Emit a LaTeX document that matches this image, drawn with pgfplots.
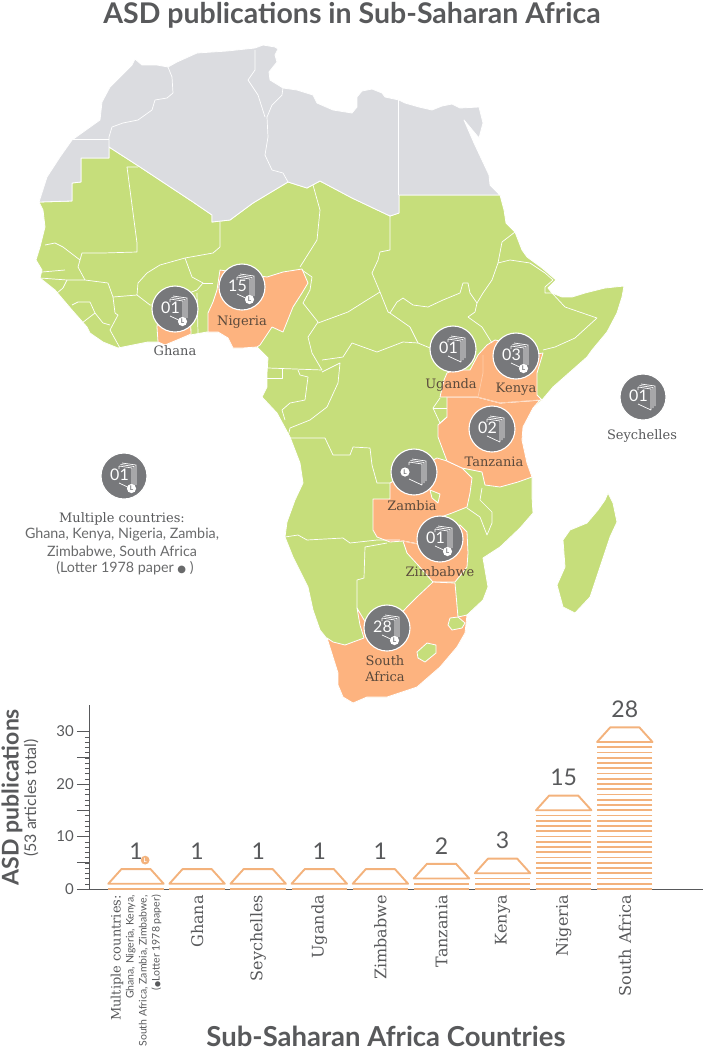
\documentclass[border=0pt]{standalone}
\usepackage{fontspec}
\usepackage{pgfplots}
\pgfplotsset{compat=1.18}
\setmainfont{Lato}
\newfontfamily\slab{DejaVu Serif}
\newfontfamily\symb{DejaVu Sans}
\definecolor{landgreen}{HTML}{C6DE7B}
\definecolor{landgrey}{HTML}{DBDCE0}
\definecolor{landorange}{HTML}{FDB37F}
\definecolor{tokgrey}{HTML}{77787B}
\definecolor{barorange}{HTML}{F3B27C}
\definecolor{inkgrey}{HTML}{58595B}
\definecolor{inkbrown}{HTML}{5B4A3C}
\newcommand{\fs}[1]{\fontsize{#1}{#1}\selectfont}
% token: grey disc with a stack of book pages
\pgfdeclareplotmark{token}{%
  \pgfsetfillcolor{tokgrey}\pgfsetstrokecolor{white}\pgfsetlinewidth{1.1pt}%
  \pgfpathcircle{\pgfpointorigin}{23pt}\pgfusepathqfillstroke
  \pgfsetlinewidth{0.7pt}%
  \pgfpathmoveto{\pgfqpoint{-5pt}{10pt}}\pgfpathlineto{\pgfqpoint{8pt}{8pt}}\pgfpathlineto{\pgfqpoint{8pt}{-13pt}}%
  \pgfpathmoveto{\pgfqpoint{-3.5pt}{11.5pt}}\pgfpathlineto{\pgfqpoint{10pt}{9.5pt}}\pgfpathlineto{\pgfqpoint{10pt}{-11pt}}%
  \pgfpathmoveto{\pgfqpoint{-2pt}{13pt}}\pgfpathlineto{\pgfqpoint{12pt}{11pt}}\pgfpathlineto{\pgfqpoint{12pt}{-9pt}}%
  \pgfpathmoveto{\pgfqpoint{-5pt}{10pt}}\pgfpathlineto{\pgfqpoint{-5pt}{7pt}}%
  \pgfpathmoveto{\pgfqpoint{-5pt}{-7pt}}\pgfpathlineto{\pgfqpoint{8pt}{-13pt}}%
  \pgfusepathqstroke}
\pgfdeclareplotmark{badge}{%
  \pgfsetfillcolor{white}\pgfpathcircle{\pgfpointorigin}{4.6pt}\pgfusepathqfill
  \pgftext{\textcolor{tokgrey}{\fs{6.5}\bfseries L}}}
\pgfdeclareplotmark{obadge}{%
  \pgfsetfillcolor{barorange}\pgfpathcircle{\pgfpointorigin}{4.4pt}\pgfusepathqfill
  \pgftext{\textcolor{white}{\fs{6}\bfseries L}}}
\pgfdeclareplotmark{trap}{%
  \pgfpathmoveto{\pgfqpoint{-27.7pt}{0pt}}\pgfpathlineto{\pgfqpoint{-14.5pt}{14.7pt}}%
  \pgfpathlineto{\pgfqpoint{14.5pt}{14.7pt}}\pgfpathlineto{\pgfqpoint{27.7pt}{0pt}}%
  \pgfpathclose\pgfusepathqstroke}
\pgfplotsset{
  land/.style={mark=none, line width=0.8pt, draw=white, line join=round},
  border/.style={mark=none, draw=white, line width=0.7pt, line join=round},
  inner border/.style={mark=none, draw=landorange!65!white, line width=0.7pt, line join=round},
  stripe/.style={only marks, mark=-, mark size=27.7pt,
    mark options={draw=barorange, line width=1.9pt}},
}
\tikzset{
  place/.style={font=\slab\fs{13}, text=inkbrown, inner sep=0pt},
  note/.style={font=\fs{14.3}, text=inkgrey!90, inner sep=0pt},
}
\begin{document}
\begin{tikzpicture}[x=1pt,y=1pt]
\useasboundingbox (0,0) rectangle (705,1050);
\begin{axis}[at={(0,0)}, anchor=south west, width=705pt, height=1050pt, scale only axis,
  xmin=0, xmax=705, ymin=0, ymax=1050, y dir=reverse, hide axis, clip=false]
% sub-Saharan Africa
\addplot[land, fill=landgreen] coordinates {(39,202)(72,201)(72,183)(81,182)(81,158)(109,158)(109,147)(140,167)(193,202)(212,215)(212,222)(230,220)(253,203)(288,182)(307,188)(320,181)(352,198)(390,216)(399,213)(399,195)(500,195)(504,210)(506,223)(515,232)(522,250)(527,257)(542,268)(556,280)(548,288)(552,293)(562,297)(572,297)(585,293)(605,288)(624,286)(622,297)(617,313)(607,332)(592,350)(587,357)(570,372)(553,387)(542,400)(533,408)(523,427)(522,440)(527,463)(532,477)(532,497)(533,513)(520,528)(500,547)(483,558)(488,587)(483,600)(467,615)(465,633)(457,647)(440,667)(417,687)(387,697)(367,697)(353,703)(343,697)(338,685)(338,673)(328,640)(320,630)(313,610)(308,587)(293,557)(285,537)(287,522)(295,500)(303,483)(300,463)(290,437)(277,413)(262,397)(267,387)(267,373)(268,358)(262,352)(257,347)(243,348)(233,348)(228,338)(218,332)(207,332)(190,335)(177,340)(165,345)(158,342)(148,342)(133,345)(118,348)(103,342)(90,333)(87,327)(72,310)(55,290)(40,278)(42,270)(36,260)(40,247)(45,227)(43,210)} --cycle;
% Madagascar
\addplot[land, fill=landgreen] coordinates {(608,493)(613,503)(617,522)(610,537)(600,567)(590,597)(575,613)(563,607)(557,585)(565,567)(563,540)(570,530)(587,523)(598,510)(605,500)} --cycle;
% north Africa
\addplot[land, fill=landgrey] coordinates {(39,202)(47,177)(60,157)(72,140)(100,120)(102,102)(110,87)(132,65)(135,59)(142,65)(157,65)(168,67)(177,62)(197,53)(227,51)(255,48)(263,45)(275,47)(278,49)(275,55)(277,62)(269,72)(270,80)(283,88)(297,90)(313,95)(317,103)(333,110)(352,113)(357,107)(357,97)(362,91)(372,89)(382,93)(385,97)(399,100)(405,103)(419,107)(432,110)(442,106)(452,104)(460,108)(479,107)(483,123)(479,138)(464,120)(474,143)(489,175)(490,185)(500,195)(399,195)(399,213)(390,216)(352,198)(320,181)(307,188)(288,182)(253,203)(230,220)(212,222)(212,215)(193,202)(140,167)(109,147)(109,158)(81,158)(81,182)(72,183)(72,201)} --cycle;
% countries with publications
\addplot[land, fill=landorange] coordinates {(160,300)(190,300)(191,334)(177,340)(165,345)(158,342)(157,327)} --cycle;
\addplot[land, fill=landorange] coordinates {(220,270)(267,277)(283,272)(302,269)(308,283)(302,293)(293,307)(283,332)(272,327)(260,345)(257,347)(243,348)(233,348)(228,338)(218,332)(208,332)(208,313)(213,302)(217,290)} --cycle;
\addplot[land, fill=landorange] coordinates {(373,499)(390,499)(390,483)(414,470)(437,458)(447,461)(462,468)(472,478)(470,493)(467,507)(452,513)(427,522)(418,544)(403,541)(390,542)(377,537)(373,530)} --cycle;
\addplot[land, fill=landgreen] coordinates {(430,490)(440,494)(438,503)(432,498)} --cycle;
\addplot[land, fill=landorange] coordinates {(403,541)(418,544)(440,530)(460,525)(467,532)(468,553)(467,567)(455,582)(433,582)(418,565)(407,553)} --cycle;
\addplot[land, fill=landorange] coordinates {(357,608)(360,625)(364,638)(345,645)(333,642)(327,638)(338,673)(338,685)(343,697)(353,703)(367,697)(387,697)(417,687)(440,667)(457,647)(465,633)(467,615)(458,617)(455,583)(433,582)(417,597)(407,607)(395,620)(380,625)(370,630)} --cycle;
\addplot[land, fill=landgreen] coordinates {(450,618)(458,617)(465,623)(462,628)(452,630)(448,625)} --cycle;
\addplot[land, fill=landgreen] coordinates {(417,652)(427,643)(436,645)(436,653)(425,662)(418,658)} --cycle;
\addplot[land, fill=landorange] coordinates {(447,397)(477,397)(500,403)(540,400)(533,408)(523,427)(522,440)(527,463)(532,477)(518,482)(500,487)(485,485)(482,472)(472,470)(462,468)(447,461)(438,437)(438,425)(447,417)} --cycle;
\addplot[land, fill=landorange] coordinates {(440,397)(444,380)(447,373)(455,370)(470,370)(478,355)(487,345)(495,340)(520,345)(530,355)(543,353)(537,373)(537,395)(542,400)(500,403)(477,397)} --cycle;
% borders
\addplot[border] coordinates {(168,67)(172,77)(173,93)(167,98)(155,100)(152,110)(138,120)(123,123)(112,127)(109,137)(109,147)};
\addplot[border] coordinates {(73,139)(109,139)};
\addplot[border] coordinates {(255,50)(255,70)(248,80)(258,95)(265,117)};
\addplot[border] coordinates {(283,88)(282,95)(272,105)(267,117)(268,137)(265,155)(272,170)(283,173)(288,182)};
\addplot[border] coordinates {(398,100)(398,195)};
\addplot[border] coordinates {(138,167)(127,167)(137,243)(137,252)(103,253)(93,253)(82,253)(80,260)(63,247)(55,243)(45,245)};
\addplot[border] coordinates {(80,260)(78,267)(85,280)};
\addplot[border] coordinates {(42,272)(65,270)};
\addplot[border] coordinates {(40,278)(67,280)(85,280)(108,283)(113,297)(115,313)(118,315)(110,330)(120,348)};
\addplot[border] coordinates {(67,280)(63,288)(57,293)};
\addplot[border] coordinates {(72,305)(78,302)(90,302)(95,313)(82,323)};
\addplot[border] coordinates {(95,313)(103,323)(110,325)};
\addplot[border] coordinates {(113,297)(137,295)(138,283)(147,273)(160,265)(185,258)(213,253)(220,247)(220,222)};
\addplot[border] coordinates {(137,295)(150,305)(157,305)(197,290)(203,283)(192,277)(185,258)};
\addplot[border] coordinates {(203,283)(213,283)};
\addplot[border] coordinates {(197,293)(198,333)};
\addplot[border] coordinates {(313,185)(320,210)(317,240)(300,267)};
\addplot[border] coordinates {(302,270)(312,277)(310,290)(303,303)(318,322)(308,337)(312,353)(322,370)};
\addplot[border] coordinates {(268,368)(322,370)};
\addplot[border] coordinates {(267,378)(282,378)(282,368)};
\addplot[border] coordinates {(298,370)(300,375)(308,377)(305,400)(290,403)(282,410)(285,420)};
\addplot[border] coordinates {(322,372)(340,363)(338,383)(327,407)(310,420)(290,428)(288,437)};
\addplot[border] coordinates {(390,215)(390,250)(380,252)(378,260)(372,273)(380,292)(388,312)(390,313)(410,327)(418,343)(435,350)};
\addplot[border] coordinates {(380,292)(367,300)(348,312)(318,323)};
\addplot[border] coordinates {(322,360)(343,357)(352,343)(377,352)(403,342)(418,343)};
\addplot[border] coordinates {(390,313)(397,302)(403,298)(413,305)(428,307)(443,300)(460,293)(463,283)(468,283)(470,293)(477,303)(483,293)(492,280)(498,263)(502,242)(515,232)};
\addplot[border] coordinates {(498,263)(510,260)(530,263)(545,273)(553,280)(545,287)(545,293)(552,293)(565,307)(597,318)(575,338)(555,347)(543,350)};
\addplot[border] coordinates {(477,303)(475,312)(468,317)(482,327)(492,343)};
\addplot[border] coordinates {(440,398)(433,408)(440,423)(447,417)};
\addplot[border] coordinates {(433,408)(447,408)};
\addplot[border] coordinates {(290,438)(325,438)(333,455)(350,455)(353,447)(370,448)(372,465)(377,483)(390,483)};
\addplot[border] coordinates {(285,537)(298,535)(307,540)(343,538)(350,543)(377,540)(400,540)};
\addplot[border] coordinates {(387,543)(365,547)(364,578)(357,580)(357,608)};
\addplot[border] coordinates {(482,488)(480,500)(492,512)(492,523)(487,535)(480,517)(467,508)};
% faint lines between two orange countries
\addplot[inner border] coordinates {(483,355)(483,373)(478,397)};
\addplot[inner border] coordinates {(447,397)(477,397)(500,403)(538,400)};
\addplot[inner border] coordinates {(403,541)(418,544)};
% book tokens, with the number of publications
\addplot[only marks, mark=token, nodes near coords, point meta=explicit symbolic,
  nodes near coords style={anchor=center, xshift=-4.5pt, yshift=1pt, inner sep=0pt,
    text=white, font=\fs{16}}]
  table[x=x, y=y, meta=n] {
  x y n
  175 309 01
  242 287 15
  453 349 01
  516 356 03
  492 429 02
  414 472 {}
  440 539 01
  387 628 28
  643 397 01
  124 476 01
};
\addplot[only marks, mark=badge] coordinates {(182.5,321.5)(249.5,299.5)(523.5,368.5)(447.5,551.5)(394.5,640.5)(131.5,488.5)(405,472)};
% texts
\node[font=\fs{28.5}\bfseries, text=inkgrey, anchor=base, inner sep=0pt] at (axis cs:352,23) {ASD publications in Sub-Saharan Africa};
\node[place, text=inkgrey] at (axis cs:175,351) {Ghana};
\node[place] at (axis cs:242,322) {Nigeria};
\node[place] at (axis cs:451,385) {Uganda};
\node[place] at (axis cs:516,389) {Kenya};
\node[place] at (axis cs:494,462) {Tanzania};
\node[place] at (axis cs:412,506) {Zambia};
\node[place] at (axis cs:440,572) {Zimbabwe};
\node[place] at (axis cs:385,661) {South};
\node[place] at (axis cs:385,677) {Africa};
\node[place, text=inkgrey] at (axis cs:642,436) {Seychelles};
\node[place, text=inkgrey] at (axis cs:122,519) {Multiple countries:};
\node[note] at (axis cs:122,535) {Ghana, Kenya, Nigeria, Zambia,};
\node[note] at (axis cs:122,552) {Zimbabwe, South Africa};
\node[note] at (axis cs:125,568) {(Lotter 1978 paper {\symb\fs{10}●} )};
\node[font=\fs{27.5}\bfseries, text=inkgrey, anchor=base, inner sep=0pt] at (axis cs:386,1046) {Sub-Saharan Africa Countries};
\node[font=\fs{23}\bfseries, text=inkgrey, rotate=90, inner sep=0pt] at (axis cs:12,797) {ASD publications};
\node[font=\fs{16}, text=inkgrey, rotate=90, inner sep=0pt] at (axis cs:31,798) {(53 articles total)};
\end{axis}
\begin{axis}[at={(89pt,161pt)}, anchor=south west, width=614pt, height=183.75pt, scale only axis,
  xmin=-0.769, xmax=9.28, ymin=0, ymax=35, clip=false,
  axis lines=left, axis line style={-, draw=inkgrey, line width=1pt},
  /pgf/number format/assume math mode=true,
  ytick={0,10,20,30}, minor y tick num=9, extra y ticks={5,15,25},
  extra y tick labels={},
  tick align=outside, major tick length=12pt, minor tick length=4pt,
  ytick style={draw=inkgrey, line width=0.7pt},
  minor y tick style={draw=inkgrey, line width=0.5pt},
  yticklabel style={font=\fs{15}, text=inkgrey, inner sep=0pt, xshift=-3pt},
  xtick={0,1,2,3,4,5,6,7,8},
  x tick style={draw=none},
  xticklabels={
    {{\slab\fs{13}Multiple countries:}\\[-3pt]{\rmfamily\fs{10.5}Ghana, Nigeria, Kenya,}\\[-3pt]{\rmfamily\fs{10.5}South Africa, Zambia, Zimbabwe,}\\[-3pt]{\rmfamily\fs{10.5}({\symb\fs{7}●}Lotter 1978 paper)}},
    Ghana,Seychelles,Uganda,Zimbabwe,Tanzania,Kenya,Nigeria,South Africa},
  xticklabel style={rotate=90, anchor=east, align=right, inner sep=0pt, xshift=6pt,
    font=\slab\fs{16}, text=inkgrey},
]
% one stripe per article
\addplot[stripe] coordinates {(0,0)};
\addplot[stripe] coordinates {(1,0)};
\addplot[stripe] coordinates {(2,0)};
\addplot[stripe] coordinates {(3,0)};
\addplot[stripe] coordinates {(4,0)};
\addplot[stripe] coordinates {(5,0)(5,1)};
\addplot[stripe] coordinates {(6,0)(6,1)(6,2)};
\addplot[stripe] coordinates {(7,0)(7,1)(7,2)(7,3)(7,4)(7,5)(7,6)(7,7)(7,8)(7,9)(7,10)(7,11)(7,12)(7,13)(7,14)};
\addplot[stripe] coordinates {(8,0)(8,1)(8,2)(8,3)(8,4)(8,5)(8,6)(8,7)(8,8)(8,9)(8,10)(8,11)(8,12)(8,13)(8,14)(8,15)(8,16)(8,17)(8,18)(8,19)(8,20)(8,21)(8,22)(8,23)(8,24)(8,25)(8,26)(8,27)};
% roof of each bar, with the count above it
\addplot[only marks, mark=trap, mark options={draw=barorange, line width=1.9pt, line join=round},
  nodes near coords, point meta=y,
  every node near coord/.append style={anchor=south, yshift=23.5pt, inner sep=0pt,
    font=\fs{23}, text=inkgrey, /pgf/number format/assume math mode=true}]
  coordinates {(0,1)(1,1)(2,1)(3,1)(4,1)(5,2)(6,3)(7,15)(8,28)};
\addplot[only marks, mark=obadge] coordinates {(0.15,5.5)};
\end{axis}
\end{tikzpicture}
\end{document}
